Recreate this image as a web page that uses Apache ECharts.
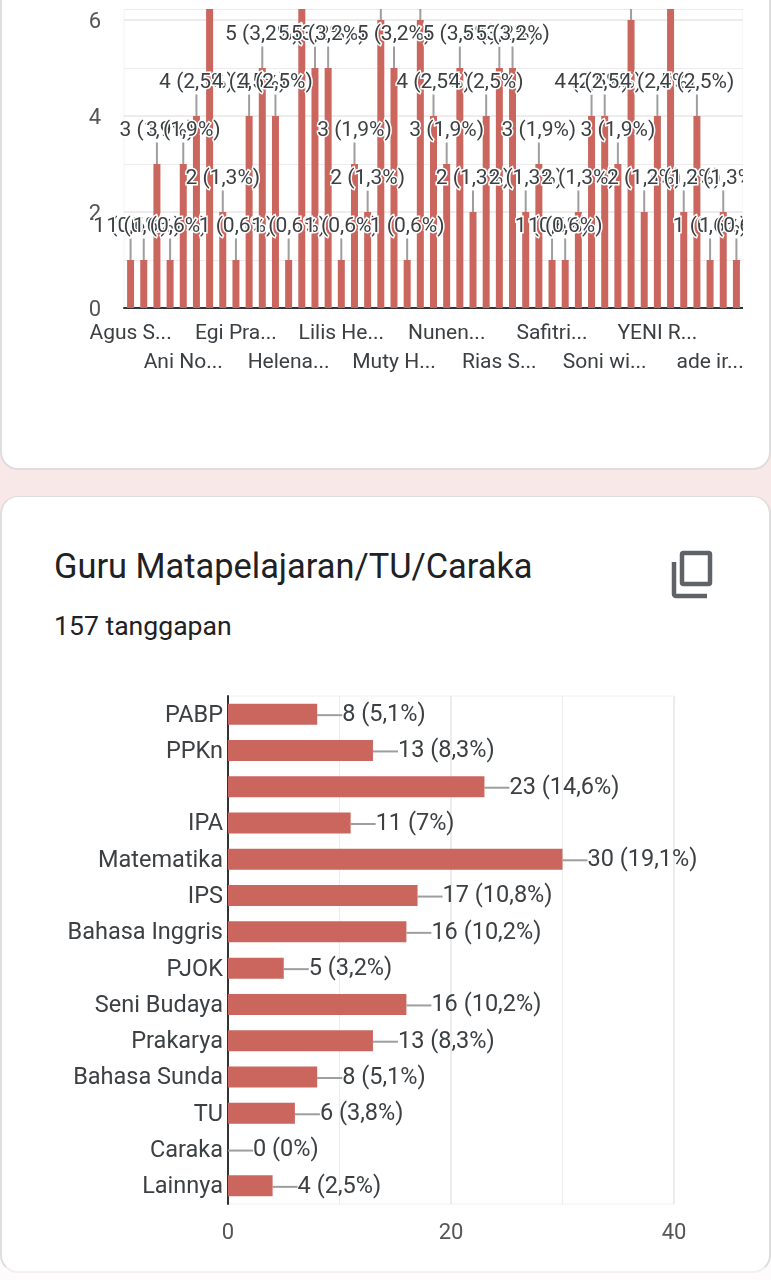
<!DOCTYPE html>
<html>
<head>
<meta charset="utf-8">
<title>Guru Matapelajaran/TU/Caraka</title>
<script src="https://cdn.jsdelivr.net/npm/echarts@6/dist/echarts.min.js"></script>
<style>
  html, body { margin: 0; padding: 0; background: #fdfbfb; }
  body { width: 771px; height: 1280px; position: relative; overflow: hidden; font-family: Roboto, sans-serif; }
  #gap { position: absolute; left: 0; top: 440px; width: 771px; height: 90px; background: #f8e8e8; }
  .card { position: absolute; left: 0; width: 767px; background: #fff; border: 2px solid #dedede; box-sizing: content-box; }
  #card1 { top: -4px; height: 470px; border-radius: 0 0 18px 18px; }
  #card2 { top: 496px; height: 774px; border-radius: 18px; border-top-width: 1px; border-bottom-color: #f1f1f1; }
  .chart { position: absolute; }
  #chart1 { left: 0; top: 9px; width: 743px; height: 390px; }
  #chart2 { left: 0; top: 680px; width: 769px; height: 590px; }
  #title { position: absolute; left: 54px; top: 545px; font-size: 34.4px; line-height: 42px; color: #202124; white-space: nowrap; }
  #sub { position: absolute; left: 54px; top: 610px; font-size: 26.6px; line-height: 32px; color: #202124; white-space: nowrap; }
  #copy { position: absolute; left: 668px; top: 548px; }
</style>
</head>
<body>
<div id="gap"></div>
<div class="card" id="card1"></div>
<div class="card" id="card2"></div>
<div class="chart" id="chart1"></div>
<div id="title">Guru Matapelajaran/TU/Caraka</div>
<div id="sub">157 tanggapan</div>
<svg id="copy" width="48" height="54" viewBox="0 0 48 54">
  <rect x="14" y="5" width="28" height="31" rx="1.500" fill="none" stroke="#5f6368" stroke-width="4.500"/>
  <path d="M6 14v32a2 2 0 0 0 2 2h31" fill="none" stroke="#5f6368" stroke-width="4.500"/>
</svg>
<div class="chart" id="chart2"></div>

<script>
// only every fourth name can be read in the picture
const teacherNames = [
  'Agus S...', '', '', '', 'Ani No...', '', '', '', 'Egi Pra...', '', '', '',
  'Helena...', '', '', '', 'Lilis He...', '', '', '', 'Muty H...', '', '', '',
  'Nunen...', '', '', '', 'Rias S...', '', '', '', 'Safitri...', '', '', '',
  'Soni wi...', '', '', '', 'YENI R...', '', '', '', 'ade ir...', '', ''
]
const teacherValues = [
  1, 1, 3, 1, 3, 4, 8, 2, 1, 4, 5, 4, 1, 8, 5, 5, 1, 3, 2, 6, 5, 1, 6, 4,
  3, 5, 2, 4, 5, 5, 2, 3, 1, 1, 2, 4, 4, 3, 6, 2, 4, 7, 2, 4, 1, 2, 1
]
const teacherPercents = [
  '0,6', '0,6', '1,9', '0,6', '1,9', '2,5', '5,1', '1,3', '0,6', '2,5', '3,2', '2,5',
  '0,6', '5,1', '3,2', '3,2', '0,6', '1,9', '1,3', '3,8', '3,2', '0,6', '3,8', '2,5',
  '1,9', '3,2', '1,3', '2,5', '3,2', '3,2', '1,3', '1,9', '0,6', '0,6', '1,3', '2,5',
  '2,5', '1,9', '3,8', '1,3', '2,5', '4,5', '1,3', '2,5', '0,6', '1,3', '0,6'
]

const subjects = [
  'PABP', 'PPKn', '', 'IPA', 'Matematika', 'IPS', 'Bahasa Inggris',
  'PJOK', 'Seni Budaya', 'Prakarya', 'Bahasa Sunda', 'TU', 'Caraka', 'Lainnya'
]
const subjectValues = [8, 13, 23, 11, 30, 17, 16, 5, 16, 13, 8, 6, 0, 4]
const subjectPercents = ['5,1', '8,3', '14,6', '7', '19,1', '10,8', '10,2', '3,2', '10,2', '8,3', '5,1', '3,8', '0', '2,5']

const BAR_COLOR = '#cb665e'
const TEXT_COLOR = '#3c4043'
const GRID_COLOR = '#ececec'
const FONT = 'Roboto, sans-serif'

const nameAxisLabel = {
  hideOverlap: false,
  margin: 15,
  color: TEXT_COLOR,
  fontFamily: FONT,
  fontSize: 21,
}

const teacherChart = echarts.init(document.getElementById('chart1'))
teacherChart.setOption({
  animation: false,
  grid: {
    left: 124,
    right: 0,
    top: 0,
    height: 299,
    outerBoundsMode: 'none',
    show: true,
    borderColor: '#f2f2f2',
    borderWidth: 1,
  },
  // names sit on two rows, so the second row gets its own axis
  xAxis: [
    {
      type: 'category',
      data: teacherNames,
      axisTick: { show: false },
      axisLine: { lineStyle: { color: '#333', width: 2 } },
      axisLabel: { ...nameAxisLabel, interval: (index) => index % 8 === 0 },
    },
    {
      type: 'category',
      position: 'bottom',
      offset: 29,
      data: teacherNames,
      axisTick: { show: false },
      axisLine: { show: false },
      axisLabel: { ...nameAxisLabel, interval: (index) => index % 8 === 4 },
    },
  ],
  yAxis: {
    type: 'value',
    min: 0,
    max: 6.23,
    interval: 2,
    minorTick: { show: false, splitNumber: 2 },
    minorSplitLine: { show: true, lineStyle: { color: GRID_COLOR, width: 1 } },
    axisLine: { show: false },
    axisTick: { show: false },
    splitLine: { lineStyle: { color: GRID_COLOR, width: 2 } },
    axisLabel: {
      color: '#555',
      fontFamily: FONT,
      fontSize: 22,
      margin: 23,
      verticalAlign: 'top',
      lineHeight: 4,
      formatter: (value) => (Number.isInteger(value) ? String(value) : ''),
    },
  },
  series: [
    {
      type: 'bar',
      data: teacherValues,
      barWidth: 7,
      itemStyle: { color: BAR_COLOR },
      label: {
        show: true,
        position: 'top',
        distance: 3,
        color: TEXT_COLOR,
        fontFamily: FONT,
        fontSize: 21,
        textBorderColor: '#fff',
        textBorderWidth: 3,
        formatter: (p) => `${p.value} (${teacherPercents[p.dataIndex]}%)`,
      },
      labelLayout: { dy: -20 },
      labelLine: { show: true, lineStyle: { color: '#9e9e9e', width: 2 } },
    },
  ],
})

const subjectChart = echarts.init(document.getElementById('chart2'))
subjectChart.setOption({
  animation: false,
  grid: {
    left: 228,
    width: 446,
    top: 16,
    height: 508,
    outerBoundsMode: 'none',
    show: true,
    borderColor: '#f0f0f0',
    borderWidth: 1,
  },
  xAxis: {
    type: 'value',
    min: 0,
    max: 40,
    interval: 20,
    minorTick: { show: false, splitNumber: 2 },
    minorSplitLine: { show: true, lineStyle: { color: GRID_COLOR, width: 1 } },
    axisLine: { show: false },
    axisTick: { show: false },
    splitLine: { lineStyle: { color: GRID_COLOR, width: 2 } },
    axisLabel: { color: '#555', fontFamily: FONT, fontSize: 22, margin: 18 },
  },
  yAxis: {
    type: 'category',
    inverse: true,
    data: subjects,
    axisTick: { show: false },
    axisLine: { lineStyle: { color: '#333', width: 2 } },
    axisLabel: {
      interval: 0,
      color: TEXT_COLOR,
      fontFamily: FONT,
      fontSize: 23.5,
      margin: 5,
      verticalAlign: 'top',
      lineHeight: 3,
    },
  },
  series: [
    {
      type: 'bar',
      data: subjectValues,
      barWidth: 21,
      itemStyle: { color: BAR_COLOR },
      label: {
        show: true,
        position: 'right',
        distance: 3,
        color: TEXT_COLOR,
        fontFamily: FONT,
        fontSize: 23.5,
        formatter: (p) => `${p.value} (${subjectPercents[p.dataIndex]}%)`,
      },
      labelLayout: { dx: 22, dy: 1 },
      labelLine: { show: true, lineStyle: { color: '#9e9e9e', width: 2 } },
    },
  ],
})
</script>
</body>
</html>
